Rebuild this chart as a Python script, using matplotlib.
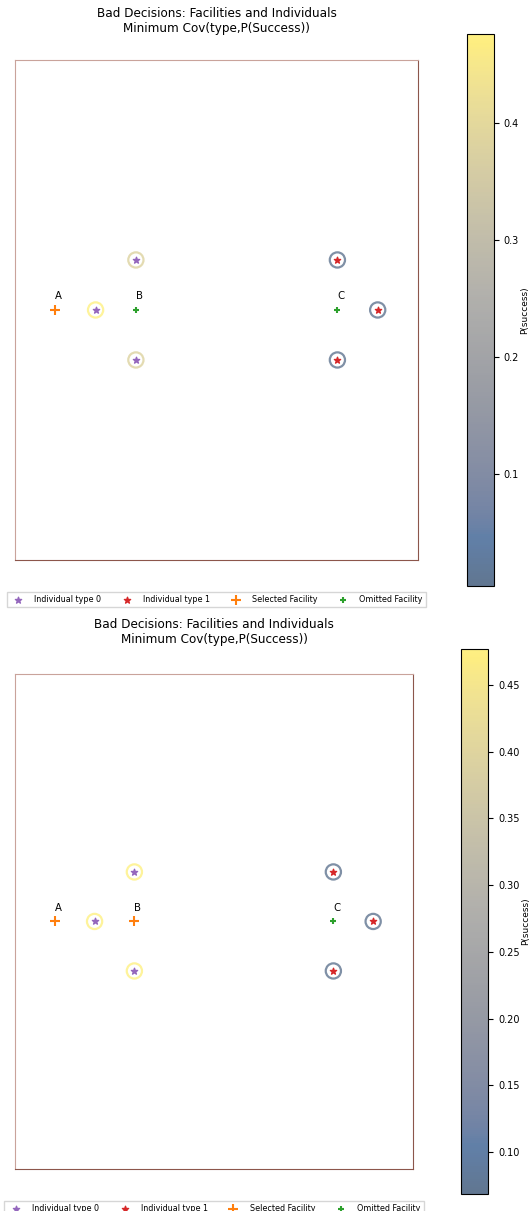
import numpy as np
import matplotlib
matplotlib.use("Agg")
import matplotlib.pyplot as plt

# Facilities (same layout in both panels)
fac_names = ["A", "B", "C"]
fac_x = [0, 2, 7]
fac_y = [0, 0, 0]

# Individuals
ind_x = [1, 2, 2, 7, 7, 8]
ind_y = [0, 1, -1, 1, -1, 0]
ind_type = [0, 0, 0, 1, 1, 1]

# Panel data: which facilities were selected, and P(success) per individual
selected_top = [True, False, False]
psucc_top = [0.4755, 0.38, 0.38, 0.0046, 0.0046, 0.0046]

selected_bot = [True, True, False]
psucc_bot = [0.477, 0.477, 0.477, 0.069, 0.069, 0.069]

title = "Bad Decisions: Facilities and Individuals\nMinimum Cov(type,P(Success))"

fig = plt.figure(figsize=(5.31, 12.11), dpi=100)


def draw_panel(ax, cax, selected, psucc, pad):
    ix = np.array(ind_x)
    iy = np.array(ind_y)
    it = np.array(ind_type)
    fx = np.array(fac_x)
    fy = np.array(fac_y)
    sel = np.array(selected)

    # hollow rings coloured by P(success)
    sc = ax.scatter(ix, iy, s=120, c=psucc, cmap="cividis",
                    linewidths=1.6, alpha=0.5, zorder=2)
    sc.set_facecolor("none")
    sc.set_edgecolor(None)
    h0 = ax.scatter(ix[it == 0], iy[it == 0], marker="*", s=22,
                    color="tab:purple", label="Individual type 0", zorder=3)
    h1 = ax.scatter(ix[it == 1], iy[it == 1], marker="*", s=22,
                    color="tab:red", label="Individual type 1", zorder=3)
    h2 = ax.scatter(fx[sel], fy[sel], marker="+", s=60, color="tab:orange",
                    label="Selected Facility", zorder=3)
    h3 = ax.scatter(fx[~sel], fy[~sel], marker="+", s=18, color="tab:green",
                    label="Omitted Facility", zorder=3)
    for name, x, y in zip(fac_names, fac_x, fac_y):
        ax.text(x, y + 0.18, name, fontsize=7.3, ha="left", va="bottom")

    ax.set_xlim(-1, 9)
    ax.set_ylim(-5, 5)
    ax.set_xticks([])
    ax.set_yticks([])
    for side in ["left", "top"]:
        ax.spines[side].set_color("#c9a39b")
    for side in ["right", "bottom"]:
        ax.spines[side].set_color("#8c564b")
    ax.set_title(title, fontsize=8.65, pad=pad)

    ax.legend(handles=[h0, h1, h2, h3], loc="upper center",
              bbox_to_anchor=(0.5, -0.056), ncol=4, fontsize=5.8,
              handletextpad=1.0, columnspacing=2.2, borderpad=0.4,
              fancybox=False)

    cb = fig.colorbar(sc, cax=cax)
    cb.solids.set_alpha(0.62)
    cb.set_label("P(success)", fontsize=6.5, labelpad=1)
    cb.ax.tick_params(labelsize=7)


ax1 = fig.add_axes([0.0282, 0.5376, 0.759, 0.4129])
cax1 = fig.add_axes([0.8789, 0.5163, 0.0508, 0.4553])
draw_panel(ax1, cax1, selected_top, psucc_top, 20)

ax2 = fig.add_axes([0.0282, 0.0347, 0.7495, 0.4088])
cax2 = fig.add_axes([0.8676, 0.0143, 0.052, 0.4500])
draw_panel(ax2, cax2, selected_bot, psucc_bot, 22)

fig.savefig("out.png", dpi=100)
